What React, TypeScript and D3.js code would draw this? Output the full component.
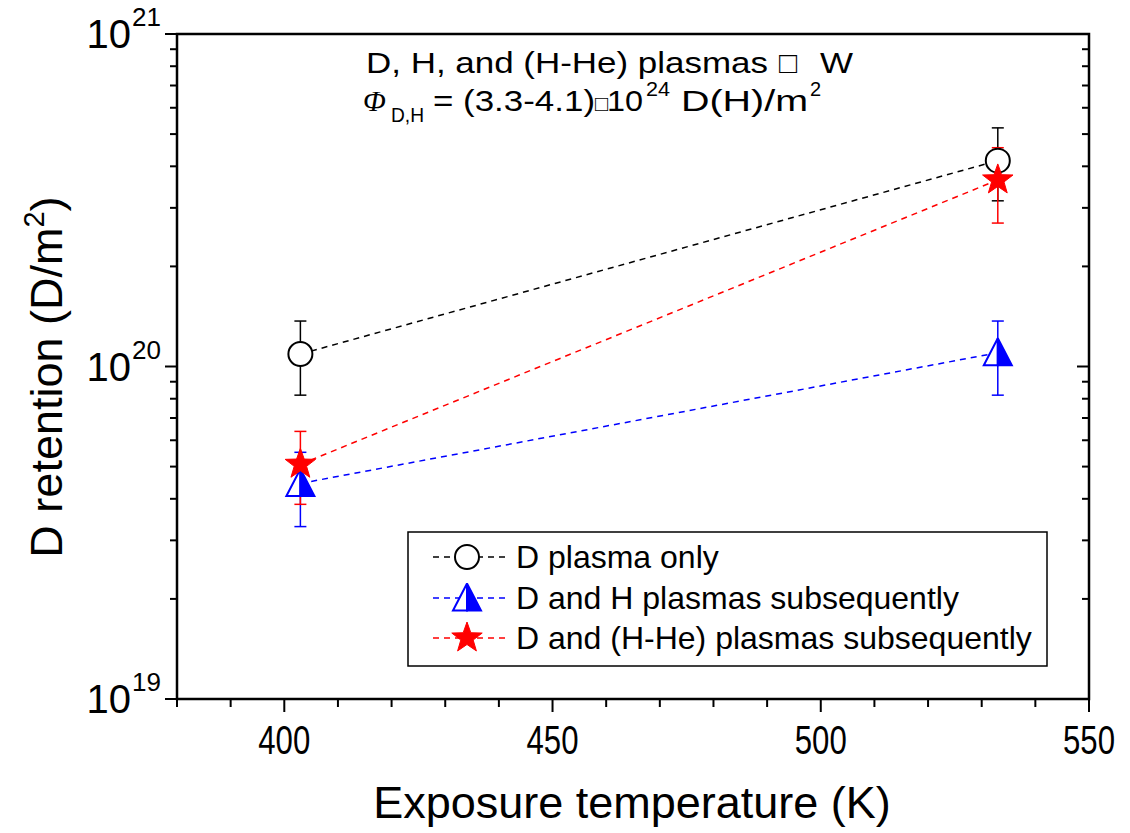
import React from 'react';
import * as d3 from 'd3';

// exposure temperature (K)
const temps = [403, 533];
// D retention (D/m^2) and error bar limits
const dOnly = [1.09e20, 4.16e20];
const dOnlyLo = [8.2e19, 3.15e20];
const dOnlyHi = [1.37e20, 5.22e20];
const dH = [4.45e19, 1.1e20];
const dHLo = [3.3e19, 8.2e19];
const dHHi = [5.52e19, 1.37e20];
const dHHe = [5.08e19, 3.64e20];
const dHHeLo = [3.85e19, 2.7e20];
const dHHeHi = [6.38e19, 4.55e20];

const xTicks = [400, 450, 500, 550];
const xMinor = d3.range(380, 551, 10);
const yDecades = [19, 20, 21];
const legendLabels = ['D plasma only', 'D and H plasmas subsequently', 'D and (H-He) plasmas subsequently'];

const W = 1130, H = 833;
const L = 177, R = 1089, T = 34, B = 699;
const FONT = 'Liberation Sans, Arial, sans-serif';

const x = d3.scaleLinear().domain([380, 550]).range([L, R]);
const y = d3.scaleLog().domain([1e19, 1e21]).range([B, T]);

const series = [
  { name: legendLabels[0], color: '#000000', v: dOnly, lo: dOnlyLo, hi: dOnlyHi, marker: 'circle' },
  { name: legendLabels[1], color: '#0000ff', v: dH, lo: dHLo, hi: dHHi, marker: 'triangle' },
  { name: legendLabels[2], color: '#ff0000', v: dHHe, lo: dHHeLo, hi: dHHeHi, marker: 'star' },
];

const starPath = (() => {
  const pts: [number, number][] = [];
  for (let i = 0; i < 10; i++) {
    const r = i % 2 === 0 ? 16 : 6.5;
    const a = -Math.PI / 2 + (i * Math.PI) / 5;
    pts.push([r * Math.cos(a), r * Math.sin(a)]);
  }
  return 'M' + pts.map(p => p.join(',')).join('L') + 'Z';
})();

function Marker({ kind, cx, cy, color }: { kind: string; cx: number; cy: number; color: string }) {
  if (kind === 'circle') {
    return <circle cx={cx} cy={cy} r={12} fill="#fff" stroke={color} strokeWidth={2} />;
  }
  if (kind === 'triangle') {
    const w = 14, h = 25;
    return (
      <g transform={`translate(${cx},${cy})`}>
        <path d={`M0,${-h / 2 - 2} L${-w},${h / 2} L0,${h / 2} Z`} fill="#fff" stroke={color} strokeWidth={2} strokeLinejoin="miter" />
        <path d={`M0,${-h / 2 - 2} L${w},${h / 2} L0,${h / 2} Z`} fill={color} stroke={color} strokeWidth={2} />
      </g>
    );
  }
  return <path d={starPath} transform={`translate(${cx},${cy})`} fill={color} stroke={color} strokeWidth={1} />;
}

export default function App() {
  const minorY: number[] = [];
  for (const e of [19, 20]) for (let m = 2; m <= 9; m++) minorY.push(m * Math.pow(10, e));

  const line = d3.line<number>().x((_, i) => x(temps[i])).y(d => y(d));

  const legX = 408, legY = 532, legW = 639, legH = 134;
  const rowY = [557, 598, 638];

  return (
    <svg width={W} height={H} style={{ position: 'absolute', left: 0, top: 0, background: '#fff' }} fontFamily={FONT}>
      {/* frame */}
      <rect x={L} y={T} width={R - L} height={B - T} fill="none" stroke="#000" strokeWidth={2.5} />

      {/* bottom axis ticks */}
      {xMinor.map(t => (
        <line key={'xm' + t} x1={x(t)} x2={x(t)} y1={B} y2={B + (xTicks.includes(t) ? 13 : 8)} stroke="#000" strokeWidth={2} />
      ))}
      {xTicks.map(t => (
        <text key={'xt' + t} x={x(t)} y={754} fontSize={41} textAnchor="middle" textLength={52} lengthAdjust="spacingAndGlyphs">{t}</text>
      ))}

      {/* left and right axis ticks */}
      {yDecades.map(e => (
        <g key={'yd' + e}>
          <line x1={L - 12} x2={L} y1={y(Math.pow(10, e))} y2={y(Math.pow(10, e))} stroke="#000" strokeWidth={2} />
          <line x1={R - 12} x2={R} y1={y(Math.pow(10, e))} y2={y(Math.pow(10, e))} stroke="#000" strokeWidth={2} />
          <text x={131} y={y(Math.pow(10, e)) + 14} fontSize={40} textAnchor="end">10</text>
          <text x={132} y={y(Math.pow(10, e)) - 8} fontSize={26} textAnchor="start">{e}</text>
        </g>
      ))}
      {minorY.map(v => (
        <g key={'ym' + v}>
          <line x1={L - 7} x2={L} y1={y(v)} y2={y(v)} stroke="#000" strokeWidth={2} />
          <line x1={R - 7} x2={R} y1={y(v)} y2={y(v)} stroke="#000" strokeWidth={2} />
        </g>
      ))}

      {/* axis titles */}
      <text x={632} y={818} fontSize={45} textAnchor="middle">Exposure temperature (K)</text>
      <text transform="translate(62,377) rotate(-90)" fontSize={45} textAnchor="middle">
        D retention (D/m<tspan fontSize={29} dy={-18}>2</tspan><tspan dy={18}>)</tspan>
      </text>

      {/* annotation */}
      <g fontSize={30}>
        <text x={366} y={73} textLength={402} lengthAdjust="spacingAndGlyphs">D, H, and (H-He) plasmas</text>
        <text x={779} y={73}>□</text>
        <text x={820} y={73} textLength={33} lengthAdjust="spacingAndGlyphs">W</text>

        <text x={363} y={111} fontFamily="Liberation Serif, Times New Roman, serif" fontStyle="italic">Φ</text>
        <text x={391} y={122} fontSize={20} textLength={33} lengthAdjust="spacingAndGlyphs">D,H</text>
        <text x={433} y={111} textLength={162} lengthAdjust="spacingAndGlyphs">= (3.3-4.1)</text>
        <text x={595} y={111} fontSize={22}>□</text>
        <text x={607} y={111} textLength={36} lengthAdjust="spacingAndGlyphs">10</text>
        <text x={646} y={96} fontSize={20} textLength={24} lengthAdjust="spacingAndGlyphs">24</text>
        <text x={681} y={111} textLength={127} lengthAdjust="spacingAndGlyphs">D(H)/m</text>
        <text x={810} y={96} fontSize={20}>2</text>
      </g>

      {/* connecting dashed lines */}
      {series.map(s => (
        <path key={'l' + s.name} d={line(s.v) || ''} fill="none" stroke={s.color} strokeWidth={1.5} strokeDasharray="6,5" />
      ))}

      {/* error bars and markers */}
      {series.map(s => (
        <g key={'e' + s.name}>
          {s.v.map((v, i) => {
            const cx = x(temps[i]);
            return (
              <g key={i}>
                <line x1={cx} x2={cx} y1={y(s.lo[i])} y2={y(s.hi[i])} stroke={s.color} strokeWidth={1.5} />
                <line x1={cx - 6} x2={cx + 6} y1={y(s.lo[i])} y2={y(s.lo[i])} stroke={s.color} strokeWidth={1.5} />
                <line x1={cx - 6} x2={cx + 6} y1={y(s.hi[i])} y2={y(s.hi[i])} stroke={s.color} strokeWidth={1.5} />
              </g>
            );
          })}
        </g>
      ))}
      {series.map(s => (
        <g key={'m' + s.name}>
          {s.v.map((v, i) => <Marker key={i} kind={s.marker} cx={x(temps[i])} cy={y(v)} color={s.color} />)}
        </g>
      ))}

      {/* legend */}
      <rect x={legX} y={legY} width={legW} height={legH} fill="#fff" stroke="#000" strokeWidth={1.5} />
      {series.map((s, i) => (
        <g key={'lg' + s.name}>
          <line x1={433} x2={505} y1={rowY[i]} y2={rowY[i]} stroke={s.color} strokeWidth={1.5} strokeDasharray="6,5" />
          <Marker kind={s.marker} cx={467} cy={rowY[i]} color={s.color} />
          <text x={516} y={rowY[i] + 11} fontSize={32}>{s.name}</text>
        </g>
      ))}
    </svg>
  );
}
